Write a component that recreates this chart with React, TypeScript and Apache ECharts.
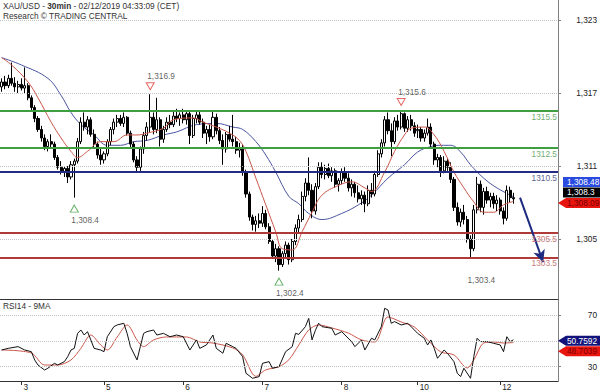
import { useEffect, useRef } from 'react';
import * as echarts from 'echarts';

const FONT = '"Liberation Sans", Arial, sans-serif';
const FS = 8.3;

// trading sessions (hourly bars) : day of Feb 2019, first and last hour
const sessions = [
  { day: 1, from: 17, to: 22 },
  { day: 3, from: 23, to: 23 },
  { day: 4, from: 0, to: 23 },
  { day: 5, from: 0, to: 23 },
  { day: 6, from: 0, to: 23 },
  { day: 7, from: 0, to: 23 },
  { day: 8, from: 0, to: 22 },
  { day: 10, from: 23, to: 23 },
  { day: 11, from: 0, to: 23 },
  { day: 12, from: 0, to: 17 },
];
const dayTickLabels = ['3', '5', '6', '7', '8', '10', '12'];

const priceTicks = [1305, 1311, 1317, 1323];
const rsiLabelTicks = [30, 70];
const rsiGrid = [30, 50, 70];

const openP = [
  1317.5, 1317.9, 1317.6, 1318.2, 1317.8, 1317.5, 1317.7, 1317.4, 1317.6, 1316.6,
  1315.8, 1314.9, 1314.0, 1313.3, 1312.6, 1313.0, 1312.8, 1311.7, 1310.9, 1310.5,
  1310.8, 1310.1, 1311.1, 1311.4, 1313.0, 1314.6, 1314.2, 1314.8, 1313.6, 1312.8,
  1311.9, 1311.5, 1312.0, 1313.0, 1314.0, 1314.6, 1314.9, 1314.5, 1315.0, 1313.7,
  1312.8, 1311.5, 1310.9, 1312.4, 1313.5, 1314.2, 1315.0, 1314.0, 1314.8, 1313.2,
  1314.0, 1314.6, 1314.4, 1315.1, 1314.9, 1315.2, 1314.8, 1315.3, 1313.5, 1314.9,
  1315.2, 1314.6, 1313.7, 1314.0, 1313.4, 1315.0, 1313.9, 1313.1, 1312.4, 1313.6,
  1313.2, 1313.0, 1312.3, 1312.5, 1310.5, 1308.7, 1306.8, 1306.2, 1306.5, 1306.3,
  1307.1, 1306.0, 1304.8, 1303.6, 1304.2, 1302.9, 1303.8, 1304.5, 1303.3, 1304.8,
  1305.9, 1306.6, 1308.5, 1309.6, 1309.0, 1307.3, 1309.3, 1310.9, 1310.3, 1310.8,
  1310.2, 1310.6, 1309.5, 1309.8, 1310.5, 1310.0, 1309.2, 1309.5, 1308.8, 1308.3,
  1308.6, 1307.9, 1309.0, 1308.7, 1310.3, 1312.0, 1312.9, 1314.8, 1313.9, 1313.0,
  1314.7, 1314.2, 1315.3, 1314.1, 1314.8, 1314.3, 1313.9, 1314.0, 1313.3, 1313.7,
  1314.2, 1312.8, 1311.5, 1311.7, 1310.6, 1311.4, 1310.9, 1309.9, 1307.6, 1306.4,
  1307.2, 1306.6, 1305.0, 1304.2, 1307.4, 1309.5, 1307.6, 1308.9, 1308.2, 1308.5,
  1307.9, 1308.2, 1307.3, 1306.7, 1309.0, 1308.4,
];
const closeP = [
  1317.9, 1317.6, 1318.2, 1317.8, 1317.5, 1317.7, 1317.4, 1317.6, 1316.6, 1315.8,
  1314.9, 1314.0, 1313.3, 1312.6, 1313.0, 1312.8, 1311.7, 1310.9, 1310.5, 1310.8,
  1310.1, 1311.1, 1311.4, 1313.0, 1314.6, 1314.2, 1314.8, 1313.6, 1312.8, 1311.9,
  1311.5, 1312.0, 1313.0, 1314.0, 1314.6, 1314.9, 1314.5, 1315.0, 1313.7, 1312.8,
  1311.5, 1310.9, 1312.4, 1313.5, 1314.2, 1315.0, 1314.0, 1314.8, 1313.2, 1314.0,
  1314.6, 1314.4, 1315.1, 1314.9, 1315.2, 1314.8, 1315.3, 1313.5, 1314.9, 1315.2,
  1314.6, 1313.7, 1314.0, 1313.4, 1315.0, 1313.9, 1313.1, 1312.4, 1313.6, 1313.2,
  1313.0, 1312.3, 1312.5, 1310.5, 1308.7, 1306.8, 1306.2, 1306.5, 1306.3, 1307.1,
  1306.0, 1304.8, 1303.6, 1304.2, 1302.9, 1303.8, 1304.5, 1303.3, 1304.8, 1305.9,
  1306.6, 1308.5, 1309.6, 1309.0, 1307.3, 1309.3, 1310.9, 1310.3, 1310.8, 1310.2,
  1310.6, 1309.5, 1309.8, 1310.5, 1310.0, 1309.2, 1309.5, 1308.8, 1308.3, 1308.6,
  1307.9, 1309.0, 1308.7, 1310.3, 1312.0, 1312.9, 1314.8, 1313.9, 1313.0, 1314.7,
  1314.2, 1315.3, 1314.1, 1314.8, 1314.3, 1313.7, 1314.0, 1313.3, 1313.7, 1314.2,
  1312.8, 1311.5, 1311.7, 1310.6, 1311.4, 1310.9, 1309.9, 1307.6, 1306.4, 1307.2,
  1306.6, 1305.0, 1304.2, 1307.4, 1309.5, 1307.6, 1308.9, 1308.2, 1308.5, 1307.9,
  1308.2, 1307.3, 1306.7, 1309.0, 1308.4, 1308.3,
];
const highP = [
  1318.2, 1318.4, 1318.5, 1319.5, 1318.3, 1318.0, 1318.2, 1319.1, 1317.8, 1316.8,
  1316.0, 1315.1, 1314.3, 1313.6, 1313.2, 1313.6, 1313.0, 1311.9, 1311.4, 1311.0,
  1311.0, 1311.4, 1311.6, 1313.3, 1315.0, 1315.4, 1315.1, 1315.0, 1314.0, 1313.0,
  1312.4, 1312.2, 1313.2, 1314.2, 1314.9, 1315.2, 1315.2, 1315.4, 1315.1, 1313.9,
  1313.0, 1311.8, 1312.6, 1313.8, 1314.6, 1316.9, 1315.4, 1316.6, 1315.0, 1314.3,
  1315.0, 1315.2, 1315.5, 1315.7, 1315.4, 1315.7, 1315.6, 1315.5, 1315.2, 1315.6,
  1315.5, 1314.9, 1314.3, 1314.4, 1315.6, 1315.3, 1314.2, 1313.6, 1313.8, 1314.3,
  1315.2, 1313.4, 1312.9, 1312.8, 1310.7, 1308.9, 1307.0, 1306.9, 1307.1, 1307.7,
  1307.4, 1306.3, 1305.0, 1304.6, 1304.4, 1304.0, 1304.8, 1304.7, 1305.0, 1306.2,
  1307.0, 1308.9, 1310.0, 1311.7, 1309.5, 1309.6, 1311.3, 1311.3, 1311.1, 1311.2,
  1310.9, 1310.8, 1310.0, 1310.8, 1310.9, 1310.4, 1309.9, 1309.7, 1309.4, 1309.0,
  1308.9, 1309.4, 1309.6, 1310.6, 1312.3, 1313.2, 1315.1, 1315.4, 1314.5, 1315.0,
  1315.2, 1315.6, 1315.4, 1315.1, 1315.2, 1314.6, 1314.4, 1314.2, 1314.0, 1314.9,
  1314.5, 1313.0, 1312.0, 1311.9, 1311.8, 1311.6, 1311.3, 1310.1, 1308.0, 1307.5,
  1307.8, 1306.9, 1305.3, 1307.8, 1310.1, 1309.8, 1309.2, 1309.3, 1308.8, 1308.8,
  1308.6, 1308.4, 1307.6, 1309.4, 1309.3, 1308.8,
];
const lowP = [
  1317.1, 1317.3, 1317.4, 1317.6, 1317.1, 1317.0, 1317.2, 1317.0, 1316.4, 1315.6,
  1314.6, 1313.8, 1313.0, 1312.3, 1312.2, 1312.5, 1311.5, 1310.7, 1310.3, 1310.1,
  1309.6, 1309.9, 1308.4, 1311.2, 1312.8, 1313.9, 1313.6, 1313.4, 1312.5, 1311.6,
  1311.1, 1311.2, 1311.8, 1312.7, 1313.6, 1314.2, 1314.3, 1314.2, 1313.5, 1312.5,
  1311.3, 1310.5, 1310.6, 1312.0, 1313.1, 1313.8, 1313.6, 1313.7, 1312.6, 1312.9,
  1313.8, 1314.1, 1314.2, 1314.6, 1314.3, 1314.5, 1314.4, 1312.8, 1313.3, 1314.5,
  1314.4, 1313.3, 1312.8, 1313.0, 1313.2, 1313.6, 1312.8, 1311.1, 1312.1, 1313.0,
  1312.6, 1312.0, 1311.7, 1310.2, 1308.4, 1306.5, 1305.7, 1305.6, 1305.9, 1306.0,
  1305.8, 1304.6, 1303.4, 1303.1, 1302.4, 1302.7, 1303.4, 1302.9, 1303.1, 1304.5,
  1305.5, 1306.4, 1308.1, 1308.6, 1306.7, 1307.0, 1309.1, 1310.0, 1309.9, 1310.0,
  1309.7, 1309.2, 1308.9, 1309.5, 1309.7, 1308.9, 1308.5, 1308.4, 1308.0, 1307.8,
  1307.2, 1307.7, 1308.4, 1308.5, 1310.1, 1311.7, 1312.6, 1313.6, 1311.8, 1312.8,
  1313.9, 1314.0, 1313.8, 1313.8, 1313.9, 1313.4, 1313.3, 1313.0, 1313.0, 1313.5,
  1312.5, 1311.1, 1310.9, 1310.1, 1310.4, 1310.6, 1309.6, 1307.3, 1306.1, 1306.0,
  1306.2, 1304.7, 1303.4, 1304.0, 1307.1, 1307.2, 1307.0, 1307.9, 1307.6, 1307.5,
  1307.3, 1307.0, 1306.2, 1306.5, 1308.0, 1307.9,
];

// moving averages: [bar index, price]
const redMA = [
  [0, 1319.9], [3, 1319.3], [8, 1317.9], [11, 1316.6], [15, 1314.6], [18, 1313.3], [21, 1312.2],
  [23, 1311.7], [26, 1312.2], [30, 1313.0], [34, 1313.0], [38, 1313.55], [41, 1313.55], [44, 1313.7],
  [49, 1314.1], [52, 1314.8], [58, 1314.95], [61, 1314.6], [65, 1314.2], [69, 1313.7], [72, 1313.1],
  [74, 1312.2], [77, 1310.0], [80, 1307.8], [83, 1305.6], [85, 1304.2], [88, 1304.1], [91, 1305.6],
  [94, 1307.2], [97, 1308.6], [102, 1309.4], [106, 1309.7], [110, 1309.2], [112, 1308.9], [116, 1310.5],
  [119, 1312.2], [122, 1313.55], [124, 1314.1], [128, 1314.2], [131, 1313.55], [134, 1312.2],
  [137, 1310.5], [140, 1309.2], [143, 1308.05], [146, 1307.2], [149, 1307.2], [152, 1307.8], [155, 1308.09],
];
const blueMA = [
  [0, 1319.9], [6, 1319.3], [14, 1318.2], [18, 1316.8], [21, 1315.4], [24, 1314.4], [28, 1313.55],
  [32, 1312.7], [36, 1312.7], [40, 1313.0], [44, 1313.1], [49, 1313.55], [53, 1313.8], [59, 1314.4],
  [65, 1314.5], [70, 1314.2], [73, 1314.0], [77, 1313.0], [80, 1311.9], [83, 1310.5], [87, 1308.5],
  [90, 1307.9], [93, 1307.1], [97, 1306.6], [103, 1307.1], [108, 1307.8], [112, 1308.6], [117, 1310.0],
  [122, 1311.1], [126, 1312.15], [130, 1312.6], [133, 1312.7], [136, 1312.7], [139, 1312.15],
  [142, 1311.1], [146, 1310.0], [150, 1309.2], [155, 1308.48],
];

const rsi = [
  [0, 42.9], [2, 44.2], [5, 45.5], [7, 42.9], [9, 41.6], [10, 35.2], [11, 31.3], [13, 27.4], [14, 28.8],
  [16, 32.6], [17, 31.3], [19, 33.9], [20, 37.7], [21, 42.9], [22, 44.2], [23, 55.8], [24, 58.4],
  [25, 54.5], [26, 57.1], [27, 50.7], [28, 44.2], [30, 42.9], [31, 41.6], [32, 53.2], [34, 61.0],
  [35, 62.3], [37, 63.6], [38, 55.8], [39, 45.5], [41, 35.2], [42, 45.5], [43, 55.8], [44, 57.1],
  [46, 58.4], [47, 54.5], [49, 55.8], [51, 53.2], [53, 54.5], [55, 53.2], [57, 42.9], [59, 50.7],
  [60, 44.2], [62, 46.8], [64, 54.5], [65, 44.2], [67, 40.4], [68, 48.1], [70, 45.5], [71, 44.2],
  [73, 37.7], [74, 24.9], [76, 21.0], [78, 22.3], [79, 32.6], [81, 33.9], [82, 28.8], [84, 30.0],
  [86, 41.6], [88, 45.5], [89, 55.8], [90, 55.0], [92, 61.0], [93, 67.4], [94, 50.7], [95, 58.0],
  [96, 63.6], [97, 61.0], [100, 59.7], [101, 54.5], [103, 57.1], [104, 54.5], [106, 49.4], [107, 45.5],
  [109, 50.7], [110, 42.9], [112, 52.0], [113, 50.7], [115, 61.0], [116, 75.2], [117, 73.9], [118, 63.6],
  [119, 64.9], [121, 62.3], [123, 63.6], [125, 58.4], [126, 55.8], [128, 52.0], [129, 46.8], [130, 50.7],
  [131, 44.2], [132, 36.5], [134, 42.9], [135, 40.4], [137, 33.9], [138, 24.9], [139, 22.3], [140, 28.8],
  [142, 21.0], [143, 37.7], [144, 52.0], [145, 49.4], [147, 49.4], [149, 48.1], [151, 46.8], [152, 41.6],
  [153, 53.2], [154, 49.4], [155, 50.7592],
];
const rsiMA = [
  [0, 42.9], [9, 40.6], [13, 31.3], [17, 31.3], [21, 35.2], [24, 44.2], [27, 54.5], [30, 46.8],
  [32, 42.9], [35, 53.0], [38, 62.3], [41, 50.7], [43, 45.5], [46, 50.7], [50, 53.0], [56, 53.0],
  [60, 49.1], [64, 48.3], [70, 44.5], [73, 39.1], [77, 22.5], [80, 27.5], [84, 30.0], [87, 35.4],
  [90, 46.8], [93, 58.4], [96, 62.3], [100, 60.0], [105, 56.0], [109, 50.7], [113, 49.1], [117, 68.5],
  [121, 64.6], [125, 60.7], [129, 50.7], [133, 41.4], [137, 39.1], [141, 29.0], [143, 35.2],
  [146, 48.3], [149, 49.1], [152, 48.3], [155, 48.7039],
];

const levelValues = [1315.5, 1312.5, 1310.5, 1305.5, 1303.5];
const levelKinds = ['res', 'res', 'pivot', 'sup', 'sup'];

const highMarks = [
  { idx: 45, price: 1316.9 },
  { idx: 121, price: 1315.6 },
];
const lowMarks = [
  { idx: 22, price: 1308.4 },
  { idx: 84, price: 1302.4 },
];
const lowTextOnly = [{ idx: 142, price: 1303.4 }];

const arrowFrom = { idx: 157, price: 1308.4 };
const arrowTo = { idx: 164, price: 1303.1 };

const lastPrice = 1308.3;
const blueLast = 1308.48;
const redLast = 1308.09;
const rsiLast = 50.7592;
const rsiMALast = 48.7039;

const categories: string[] = [];
const dayStart: boolean[] = [];
sessions.forEach((s) => {
  for (let h = s.from; h <= s.to; h++) {
    categories.push(`${s.day} ${String(h).padStart(2, '0')}:00`);
    dayStart.push(h === s.from && dayTickLabels.includes(String(s.day)));
  }
});

const kindStyle: Record<string, { line: string; text: string }> = {
  res: { line: '#3f9e3f', text: '#6fae6f' },
  pivot: { line: '#232c82', text: '#5a6294' },
  sup: { line: '#b03a3a', text: '#c87a7a' },
};

const fmtPrice = (v: number) =>
  v.toLocaleString('en-US', { minimumFractionDigits: 1, maximumFractionDigits: 2 });

export default function App() {
  const ref = useRef<HTMLDivElement>(null);
  useEffect(() => {
    if (!ref.current) return;
    const chart = echarts.init(ref.current, undefined, { renderer: 'svg' });
    const candles = openP.map((o, i) => [o, closeP[i], lowP[i], highP[i]]);
    const txt = { fontFamily: FONT, fontSize: FS };

    chart.setOption({
      animation: false,
      backgroundColor: '#fff',
      grid: [
        { left: 0, right: 42, top: 0, height: 299 },
        { left: 0, right: 42, top: 299, height: 82 },
      ],
      xAxis: [
        {
          gridIndex: 0, type: 'category', data: categories,
          axisLine: { lineStyle: { color: '#333', width: 1 } },
          axisTick: { show: false }, axisLabel: { show: false }, splitLine: { show: false },
        },
        {
          gridIndex: 1, type: 'category', data: categories,
          axisLine: { lineStyle: { color: '#333', width: 1 } },
          axisTick: {
            show: true, alignWithLabel: true, length: 4,
            interval: (i: number) => dayStart[i], lineStyle: { color: '#333' },
          },
          axisLabel: {
            ...txt, color: '#222', margin: 2, align: 'left', padding: [0, 0, 0, 2],
            interval: (i: number) => dayStart[i],
            formatter: (v: string) => v.split(' ')[0],
          },
          splitLine: { show: false },
        },
      ],
      yAxis: [
        {
          gridIndex: 0, type: 'value', position: 'right', min: 1300.07, max: 1324.64,
          splitLine: { show: false },
          axisLine: { show: true, lineStyle: { color: '#808080' } },
          axisTick: { show: true, customValues: priceTicks, length: 3, lineStyle: { color: '#808080' } },
          axisLabel: {
            ...txt, color: '#222', customValues: priceTicks, align: 'right', margin: 39,
            formatter: (v: number) => v.toLocaleString('en-US'),
          },
        },
        {
          gridIndex: 1, type: 'value', position: 'right', min: 18.9, max: 82.4,
          splitLine: { show: false },
          axisLine: { show: true, lineStyle: { color: '#808080' } },
          axisTick: { show: true, customValues: rsiLabelTicks, length: 3, lineStyle: { color: '#808080' } },
          axisLabel: { ...txt, color: '#222', customValues: rsiLabelTicks, align: 'right', margin: 39 },
        },
      ],
      series: [
        {
          type: 'line', name: 'MA long', xAxisIndex: 0, yAxisIndex: 0, data: blueMA,
          smooth: 0.4, showSymbol: false, lineStyle: { color: '#4a54a0', width: 1 }, z: 2,
          markLine: {
            silent: true, symbol: ['none', 'none'], label: { show: false },
            lineStyle: { color: '#c4c4c4', type: 'dotted', width: 1 },
            data: priceTicks.map((v) => ({ yAxis: v })),
          },
        },
        {
          type: 'candlestick', xAxisIndex: 0, yAxisIndex: 0, data: candles, barWidth: 2.6, z: 3,
          itemStyle: { color: '#ffffff', color0: '#000000', borderColor: '#000000', borderColor0: '#000000', borderWidth: 1 },
          markLine: {
            silent: true, symbol: ['none', 'none'],
            data: [
              ...levelValues.map((v, i) => ({
                yAxis: v,
                lineStyle: { color: kindStyle[levelKinds[i]].line, width: 2, type: 'solid' },
                label: {
                  show: true, position: 'insideEndBottom', distance: [1, 2], ...txt,
                  color: kindStyle[levelKinds[i]].text, formatter: v.toFixed(1),
                },
              })),
              [
                { coord: [arrowFrom.idx, arrowFrom.price], symbol: 'none', lineStyle: { color: '#1c2a80', width: 2, type: 'solid' }, label: { show: false } },
                { coord: [arrowTo.idx, arrowTo.price], symbol: 'arrow', symbolSize: [9, 12], lineStyle: { color: '#1c2a80', width: 2, type: 'solid' }, label: { show: false } },
              ],
            ],
          },
        },
        {
          type: 'line', name: 'MA short', xAxisIndex: 0, yAxisIndex: 0, data: redMA,
          smooth: 0.4, showSymbol: false, lineStyle: { color: '#c9574a', width: 1 }, z: 4,
        },
        {
          type: 'scatter', xAxisIndex: 0, yAxisIndex: 0, z: 5,
          data: highMarks.map((m) => [m.idx, m.price]),
          symbol: 'path://M0,0L10,0L5,9Z', symbolSize: [8, 7], symbolOffset: [0, -8],
          itemStyle: { color: 'rgba(255,255,255,0)', borderColor: '#e0443c', borderWidth: 1 },
        },
        {
          type: 'scatter', xAxisIndex: 0, yAxisIndex: 0, z: 5,
          data: lowMarks.map((m) => [m.idx, m.price]),
          symbol: 'triangle', symbolSize: [8, 7], symbolOffset: [0, 11],
          itemStyle: { color: 'rgba(255,255,255,0)', borderColor: '#3f9e3f', borderWidth: 1 },
        },
        {
          type: 'scatter', xAxisIndex: 0, yAxisIndex: 0, z: 5,
          data: highMarks.map((m) => [m.idx, m.price]),
          symbolSize: 1, itemStyle: { color: 'rgba(255,255,255,0)' },
          label: {
            show: true, position: 'inside', align: 'left', verticalAlign: 'middle', offset: [-3, -18],
            ...txt, color: '#333', formatter: (p: any) => fmtPrice(p.value[1]),
          },
        },
        {
          type: 'scatter', xAxisIndex: 0, yAxisIndex: 0, z: 5,
          data: [...lowMarks, ...lowTextOnly].map((m) => [m.idx, m.price]),
          symbolSize: 1, itemStyle: { color: 'rgba(255,255,255,0)' },
          label: {
            show: true, position: 'inside', align: 'left', verticalAlign: 'middle', offset: [-3, 22],
            ...txt, color: '#333', formatter: (p: any) => fmtPrice(p.value[1]),
          },
        },
        {
          type: 'line', name: 'RSI MA', xAxisIndex: 1, yAxisIndex: 1, data: rsiMA,
          smooth: 0.3, showSymbol: false, lineStyle: { color: '#c9574a', width: 1 }, z: 2,
          markLine: {
            silent: true, symbol: ['none', 'none'], label: { show: false },
            lineStyle: { color: '#c4c4c4', type: 'dotted', width: 1 },
            data: rsiGrid.map((v) => ({ yAxis: v })),
          },
        },
        {
          type: 'line', name: 'RSI14', xAxisIndex: 1, yAxisIndex: 1, data: rsi,
          showSymbol: false, lineStyle: { color: '#111', width: 1 }, z: 3,
        },
      ],
    });

    const py = (v: number) => chart.convertToPixel({ yAxisIndex: 0 }, v) as number;
    const ry = (v: number) => chart.convertToPixel({ yAxisIndex: 1 }, v) as number;
    const tText = (x: number, y: number, text: string, fill: string) => ({
      type: 'text', x, y, z: 20,
      style: { text, fill, fontFamily: FONT, fontSize: FS, align: 'left', verticalAlign: 'middle', textAlign: 'left', textVerticalAlign: 'middle' },
    });
    const boxTag = (yc: number, fill: string, text: string, color: string) => [
      { type: 'rect', z: 19, shape: { x: 563, y: yc - 5, width: 37, height: 10 }, style: { fill } },
      tText(567, yc, text, color),
    ];
    const arrowTag = (yc: number, fill: string, text: string, color: string) => [
      { type: 'polygon', z: 19, shape: { points: [[558, yc], [566, yc - 5], [600, yc - 5], [600, yc + 5], [566, yc + 5]] }, style: { fill } },
      tText(567, yc, text, color),
    ];
    const redY = py(redLast) + 1.5;
    const blackY = redY - 10.5;
    const blueY = blackY - 10.5;
    const rsiY = ry(rsiLast) + 1;
    const rsiMaY = rsiY + 10.5;

    chart.setOption({
      graphic: [
        {
          type: 'text', x: 3, y: 6, z: 20,
          style: {
            text: 'XAU/USD - {b|30min} - 02/12/2019 04:33:09 (CET)', fill: '#333',
            fontFamily: FONT, fontSize: FS, verticalAlign: 'middle', textVerticalAlign: 'middle',
            rich: { b: { fontWeight: 'bold', fontFamily: FONT, fontSize: FS, fill: '#333' } },
          },
        },
        tText(3, 16, 'Research \u00A9 TRADING CENTRAL', '#333'),
        tText(3, 306, 'RSI14 - 9MA', '#333'),
        ...boxTag(blueY, '#2a4be0', fmtPrice(blueLast), '#ffffff'),
        ...boxTag(blackY, '#000000', fmtPrice(lastPrice), '#ffffff'),
        ...arrowTag(redY, '#e8140e', fmtPrice(redLast), '#7a0000'),
        ...arrowTag(rsiY, '#12137a', String(rsiLast), '#ffffff'),
        ...arrowTag(rsiMaY, '#e8140e', String(rsiMALast), '#7a0000'),
      ],
    });

    return () => chart.dispose();
  }, []);

  return (
    <div
      ref={ref}
      style={{ position: 'absolute', left: 0, top: 0, width: 600, height: 392, background: '#fff' }}
    />
  );
}
